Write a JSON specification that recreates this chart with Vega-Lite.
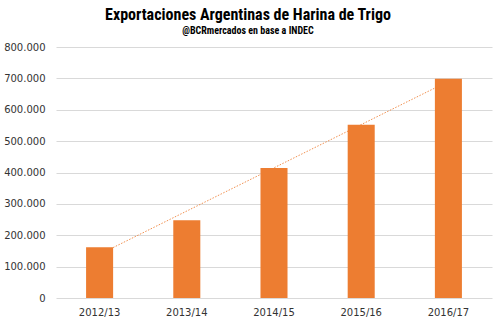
{
  "$schema": "https://vega.github.io/schema/vega-lite/v6.json",
  "width": 436,
  "height": 251,
  "autosize": {"type": "none"},
  "padding": {"left": 56, "top": 47, "right": 8, "bottom": 28},
  "background": "white",
  "datasets": {
    "exports": [
      {"season": "2012/13", "tons": 162000},
      {"season": "2013/14", "tons": 248000},
      {"season": "2014/15", "tons": 414000},
      {"season": "2015/16", "tons": 552000},
      {"season": "2016/17", "tons": 699000}
    ],
    "trend": [
      {"season": "2012/13", "tons": 139400},
      {"season": "2016/17", "tons": 690600}
    ]
  },
  "title": {
    "text": "Exportaciones Argentinas de Harina de Trigo",
    "subtitle": "@BCRmercados  en base a INDEC",
    "anchor": "middle",
    "dx": -26,
    "offset": 6,
    "font": "Roboto Condensed, Roboto, sans-serif",
    "fontSize": 16,
    "fontWeight": "bold",
    "color": "#000000",
    "subtitleFont": "Roboto Condensed, Roboto, sans-serif",
    "subtitleFontSize": 10,
    "subtitleFontWeight": "bold",
    "subtitleColor": "#000000",
    "subtitlePadding": 3
  },
  "encoding": {
    "x": {
      "field": "season",
      "type": "nominal",
      "sort": null,
      "scale": {"domain": ["2012/13", "2013/14", "2014/15", "2015/16", "2016/17"], "paddingInner": 0.69, "paddingOuter": 0.345},
      "axis": {
        "title": null,
        "labelAngle": 0,
        "ticks": false,
        "domain": false,
        "labelPadding": 9,
        "labelFont": "DejaVu Sans",
        "labelFontSize": 10,
        "labelColor": "#333333"
      }
    },
    "y": {
      "field": "tons",
      "type": "quantitative",
      "scale": {"domain": [0, 800000]},
      "axis": {
        "title": null,
        "values": [0, 100000, 200000, 300000, 400000, 500000, 600000, 700000, 800000],
        "labelExpr": "replace(format(datum.value, ','), /,/g, '.')",
        "ticks": false,
        "domain": false,
        "labelPadding": 11,
        "labelFont": "DejaVu Sans",
        "labelFontSize": 10,
        "labelColor": "#333333",
        "gridColor": "#d9d9d9",
        "gridWidth": 1
      }
    }
  },
  "layer": [
    {
      "data": {"name": "trend"},
      "mark": {"type": "line", "color": "#ED7D31", "strokeWidth": 1, "strokeDash": [1.5, 1.5], "opacity": 0.85}
    },
    {
      "data": {"name": "exports"},
      "mark": {"type": "bar", "color": "#ED7D31"}
    }
  ],
  "config": {
    "view": {"stroke": null}
  }
}
